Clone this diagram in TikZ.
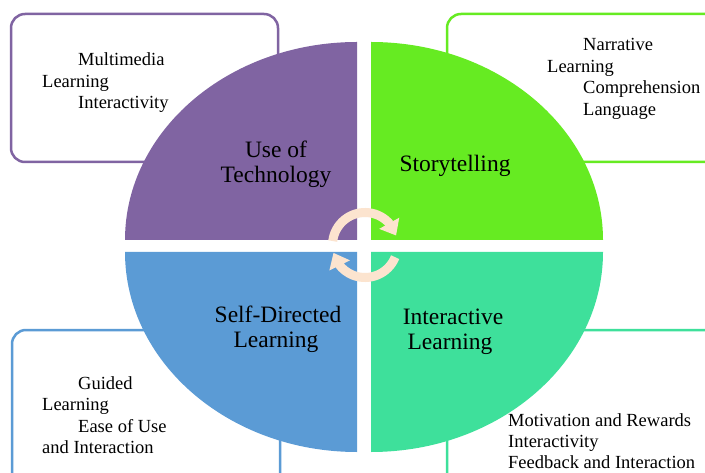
\documentclass[tikz,border=0pt]{standalone}
\usepackage{fontspec}
\setmainfont{Liberation Serif}
\usetikzlibrary{arrows.meta,bending}
\definecolor{cpurple}{HTML}{8064A2}
\definecolor{cgreen}{HTML}{66EB22}
\definecolor{cteal}{HTML}{3EE09B}
\definecolor{cblue}{HTML}{5B9BD5}
\definecolor{cpeach}{HTML}{FCE4CF}
\begin{document}
\begin{tikzpicture}[x=1bp,y=-1bp,
  box/.style={line width=2.5bp, rounded corners=14bp, fill=white},
  small/.style={font=\fontsize{18.5bp}{21.5bp}\selectfont, inner sep=0pt, anchor=base west},
  big/.style={font=\fontsize{23.5bp}{25bp}\selectfont, inner sep=0pt, anchor=base},
  cyc/.style={cpeach, line width=9bp, -{Triangle[width=22bp,length=14bp,flex]}}]
\useasboundingbox (0,0) rectangle (705,473);
\fill[white] (0,0) rectangle (705,473);
\begin{scope}
\clip (0,0) rectangle (705,473);
% boxes
\draw[box, draw=cpurple] (11,14) rectangle (278,162);
\draw[box, draw=cgreen] (447,14) rectangle (725,162);
\draw[box, draw=cblue] (12,330) rectangle (280,495);
\draw[box, draw=cteal] (447,330) rectangle (725,495);
% quadrants
\fill[cpurple] (357,240) -- (125,240) arc[start angle=180,end angle=270,x radius=232,y radius=198] -- cycle;
\fill[cgreen] (371,240) -- (371,42) arc[start angle=270,end angle=360,x radius=232,y radius=198] -- cycle;
\fill[cblue] (357,252) -- (125,252) arc[start angle=180,end angle=90,x radius=232,y radius=200] -- cycle;
\fill[cteal] (371,252) -- (603,252) arc[start angle=0,end angle=90,x radius=232,y radius=200] -- cycle;
% cycle arrows
\coordinate (cc) at (365,245);
\draw[cyc] ([shift={(187:32.5)}]cc) arc[start angle=187,end angle=343,radius=32.5];
\draw[cyc] ([shift={(22:32.5)}]cc) arc[start angle=22,end angle=166,radius=32.5];
\end{scope}
% quadrant labels
\node[big] (t1) at (276,158) {Use of};
\node[big] (t2) at (276,183) {Technology};
\node[big] (s1) at (455,172) {Storytelling};
\node[big] (d1) at (278,323) {Self-Directed};
\node[big] (d2) at (276,348) {Learning};
\node[big] (i1) at (453,325) {Interactive};
\node[big] (i2) at (450,350) {Learning};
% box texts
\node[small] (p1) at (78,66) {Multimedia};
\node[small] (p2) at (42,87.5) {Learning};
\node[small] (p3) at (78,109) {Interactivity};
\node[small] (g1) at (583,51) {Narrative};
\node[small] (g2) at (547,72.5) {Learning};
\node[small] (g3) at (583,94) {Comprehension};
\node[small] (g4) at (583,115.5) {Language};
\node[small] (b1) at (78,389) {Guided};
\node[small] (b2) at (42,410.5) {Learning};
\node[small] (b3) at (78,432) {Ease of Use};
\node[small] (b4) at (42,453) {and Interaction};
\node[small] (m1) at (508,426) {Motivation and Rewards};
\node[small] (m2) at (508,447) {Interactivity};
\node[small] (m3) at (508,468) {Feedback and Interaction};
\end{tikzpicture}
\end{document}
